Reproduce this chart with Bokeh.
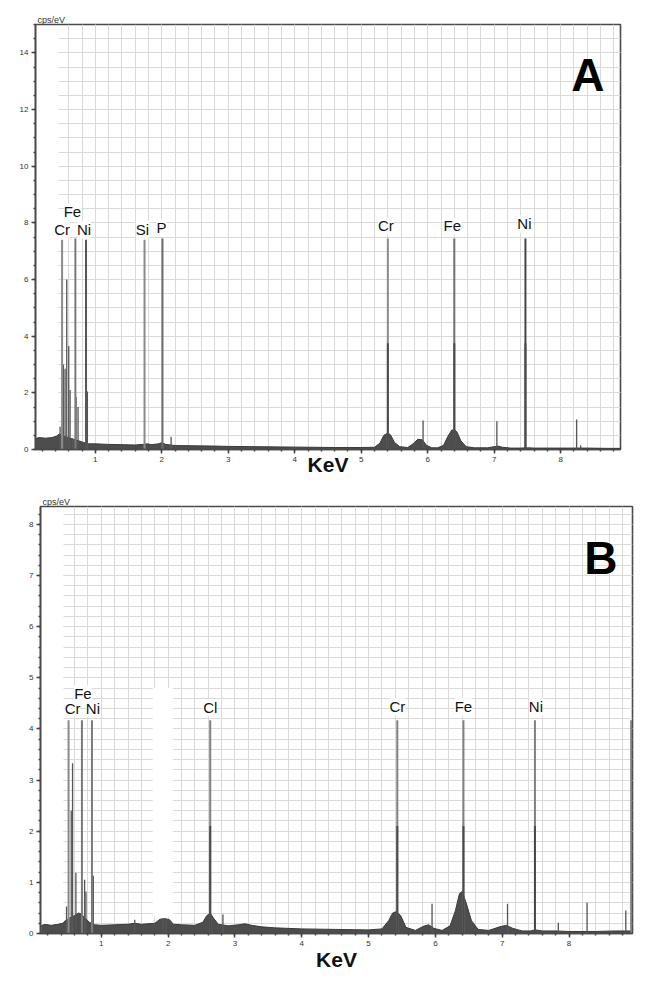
from bokeh.plotting import figure
from bokeh.layouts import column, row
from bokeh.models import (ColumnDataSource, LabelSet, Label, SingleIntervalTicker,
                          BoxAnnotation, Title)
from bokeh.core.properties import value
from bokeh.embed import file_html
from bokeh.resources import INLINE

# ------------------------------------------------------------------ data (A)
spec_A_kev = [
    0.10, 0.15, 0.25, 0.35, 0.42, 0.46, 0.50, 0.56, 0.62, 0.68,
    0.76, 0.82, 0.90, 1.00, 1.20, 1.40, 1.60, 1.72, 1.78, 1.85,
    1.95, 2.00, 2.06, 2.20, 2.50, 2.80, 3.00, 3.40, 3.80, 4.20,
    4.60, 5.00, 5.20, 5.28, 5.34, 5.40, 5.44, 5.50, 5.58, 5.70,
    5.78, 5.85, 5.92, 5.98, 6.06, 6.15, 6.24, 6.30, 6.36, 6.40,
    6.44, 6.50, 6.58, 6.70, 6.90, 7.00, 7.06, 7.12, 7.25, 7.40,
    7.50, 7.60, 7.80, 8.10, 8.40, 8.70, 8.90]
spec_A_cps = [
    0.38, 0.42, 0.40, 0.42, 0.48, 0.55, 0.50, 0.45, 0.40, 0.35,
    0.30, 0.25, 0.20, 0.20, 0.18, 0.17, 0.16, 0.18, 0.20, 0.17,
    0.20, 0.24, 0.18, 0.14, 0.13, 0.12, 0.11, 0.10, 0.09, 0.08,
    0.07, 0.07, 0.08, 0.22, 0.50, 0.58, 0.52, 0.25, 0.10, 0.07,
    0.20, 0.36, 0.34, 0.15, 0.06, 0.06, 0.15, 0.45, 0.68, 0.70,
    0.62, 0.30, 0.10, 0.06, 0.06, 0.10, 0.12, 0.08, 0.05, 0.05,
    0.06, 0.05, 0.05, 0.05, 0.05, 0.04, 0.04]
spike_A_kev = [0.47, 0.52, 0.545, 0.57, 0.60, 0.62, 0.66, 0.71, 0.74, 0.88,
               2.14, 5.93, 7.04, 8.24, 8.30]
spike_A_cps = [0.80, 3.00, 2.85, 6.00, 3.65, 2.10, 0.40, 1.85, 1.50, 2.05,
               0.45, 1.02, 1.00, 1.06, 0.15]
mark_A_el = ["Cr", "Fe", "Ni", "Si", "P", "Cr", "Fe", "Ni"]
mark_A_kev = [0.50, 0.70, 0.86, 1.74, 2.01, 5.40, 6.40, 7.47]
mark_A_top = [7.40, 7.45, 7.40, 7.40, 7.45, 7.45, 7.45, 7.45]
mark_A_inner = [0.0, 0.0, 0.0, 0.0, 0.0, 3.75, 3.75, 3.75]

# ------------------------------------------------------------------ data (B)
spec_B_kev = [
    0.10, 0.15, 0.25, 0.35, 0.42, 0.46, 0.52, 0.60, 0.66, 0.70,
    0.76, 0.82, 0.90, 1.00, 1.20, 1.40, 1.50, 1.60, 1.80, 1.88,
    1.95, 2.02, 2.08, 2.20, 2.40, 2.52, 2.58, 2.63, 2.68, 2.75,
    2.90, 3.05, 3.15, 3.25, 3.40, 3.60, 4.00, 4.50, 5.00, 5.20,
    5.30, 5.36, 5.42, 5.48, 5.56, 5.70, 5.82, 5.90, 5.98, 6.10,
    6.22, 6.30, 6.36, 6.40, 6.46, 6.54, 6.64, 6.80, 6.96, 7.06,
    7.16, 7.30, 7.42, 7.50, 7.60, 7.80, 8.00, 8.40, 8.70, 8.95]
spec_B_cps = [
    0.15, 0.18, 0.16, 0.18, 0.20, 0.25, 0.30, 0.35, 0.40, 0.38,
    0.30, 0.22, 0.17, 0.16, 0.17, 0.18, 0.20, 0.18, 0.20, 0.28,
    0.29, 0.27, 0.18, 0.17, 0.16, 0.22, 0.35, 0.40, 0.30, 0.18,
    0.15, 0.17, 0.19, 0.16, 0.13, 0.11, 0.09, 0.08, 0.07, 0.09,
    0.25, 0.40, 0.43, 0.35, 0.12, 0.06, 0.14, 0.17, 0.10, 0.06,
    0.15, 0.45, 0.78, 0.82, 0.60, 0.25, 0.08, 0.06, 0.13, 0.16,
    0.10, 0.05, 0.05, 0.07, 0.05, 0.05, 0.04, 0.04, 0.05, 0.05]
spike_B_kev = [0.48, 0.55, 0.57, 0.62, 0.75, 0.77, 0.88, 1.50, 1.92, 1.97,
               2.82, 5.95, 7.08, 7.84, 8.27, 8.85]
spike_B_cps = [0.53, 2.40, 3.33, 1.19, 1.05, 0.82, 1.13, 0.27, 0.30, 0.30,
               0.37, 0.58, 0.58, 0.21, 0.60, 0.45]
mark_B_el = ["Cr", "Fe", "Ni", "Cl", "Cr", "Fe", "Ni", ""]
mark_B_kev = [0.51, 0.71, 0.86, 2.63, 5.43, 6.42, 7.49, 8.93]
mark_B_top = [4.17, 4.17, 4.17, 4.17, 4.17, 4.17, 4.17, 4.17]
mark_B_inner = [0.0, 0.0, 0.0, 2.1, 2.1, 2.1, 2.1, 0.0]

# ------------------------------------------------------------------ styles
label_dx_A = [0, -3, -2, -2, -1, -2, -2, -1]
label_dy_A = [2, 18, 2, 2, 2, 4, 4, 6]
mark_col_A = ["#8a8a8a", "#7a7a7a", "#555555", "#8a8a8a", "#6e6e6e", "#8a8a8a", "#707070", "#444444"]
label_dx_B = [4, 1, 1, 0, 0, 0, 1, 0]
label_dy_B = [3, 18, 3, 4, 5, 5, 5, 5]
mark_col_B = ["#8a8a8a", "#7a7a7a", "#7a7a7a", "#808080", "#808080", "#808080", "#808080", "#808080"]

FONT = "Liberation Sans"


def panel(spec_kev, spec_cps, spike_kev, spike_cps, el, mk, mtop, minner,
          dx, dy, mcol, xr, yr, ymaj, ymin_n, letter, width, height,
          mb_left, mb_right, mb_top, mb_bottom, kev_standoff, let_dx, let_dy):
    p = figure(width=width, height=height, x_range=xr, y_range=yr,
               output_backend="svg", toolbar_location=None,
               min_border_left=mb_left, min_border_right=mb_right,
               min_border_top=mb_top, min_border_bottom=mb_bottom)
    p.title = Title(text="cps/eV", align="left", text_font=FONT,
                    text_font_size="9px", text_font_style="normal",
                    text_color="#333333", standoff=0, offset=2)
    p.background_fill_color = "white"
    p.border_fill_color = "white"
    p.outline_line_color = "#4a4a4a"
    p.outline_line_width = 1.6

    p.xaxis.ticker = SingleIntervalTicker(interval=1, num_minor_ticks=5)
    p.yaxis.ticker = SingleIntervalTicker(interval=ymaj, num_minor_ticks=ymin_n)
    for ax in (p.xaxis[0], p.yaxis[0]):
        ax.axis_line_color = "#4a4a4a"
        ax.axis_line_width = 1.6
        ax.major_tick_line_color = "#444444"
        ax.major_tick_line_width = 1.5
        ax.minor_tick_line_color = "#444444"
        ax.minor_tick_line_width = 1.5
        ax.major_tick_in = 0
        ax.major_tick_out = 4
        ax.minor_tick_in = 0
        ax.minor_tick_out = 2
        ax.major_label_text_font = FONT
        ax.major_label_text_font_size = "8px"
        ax.major_label_text_color = "#333333"
        ax.major_label_standoff = 3
    xa = p.xaxis[0]
    xa.axis_label = "KeV"
    xa.axis_label_text_font = FONT
    xa.axis_label_text_font_size = "21px"
    xa.axis_label_text_font_style = "bold"
    xa.axis_label_text_color = "#111111"
    xa.axis_label_standoff = kev_standoff

    for g in (p.xgrid[0], p.ygrid[0]):
        g.grid_line_color = "#dadada"
        g.grid_line_width = 1
        g.minor_grid_line_color = "#dadada"
        g.minor_grid_line_width = 1
    p.xgrid.bounds = (0.5, xr[1] + 0.1)
    try:
        p.ygrid[0].cross_bounds = (0.44, xr[1])
    except Exception:
        pass

    # spectrum continuum
    p.varea(x=spec_kev, y1=[0] * len(spec_kev), y2=spec_cps, fill_color="#4d4d4d")
    p.line(x=spec_kev, y=spec_cps, line_color="#3a3a3a", line_width=1)
    # narrow peaks
    p.vbar(x=spike_kev, top=spike_cps, bottom=0, width=0.02,
           fill_color="#585858", line_color=None)

    # element marker lines
    msrc = ColumnDataSource(dict(x=mk, top=mtop, inner=minner, el=el,
                                 dx=dx, dy=dy, col=mcol, zero=[0] * len(mk)))
    p.segment(x0="x", y0="zero", x1="x", y1="top", source=msrc,
              line_color="col", line_width=2)
    p.segment(x0="x", y0="zero", x1="x", y1="inner", source=msrc,
              line_color="#4a4a4a", line_width=2)
    labels = LabelSet(x="x", y="top", text="el", source=msrc,
                      x_offset="dx", y_offset="dy",
                      text_align="center", text_baseline="bottom",
                      text_font=value(FONT), text_font_size="15px",
                      text_color="#111111",
                      background_fill_color="white")
    p.add_layout(labels)

    p.add_layout(Label(x=xr[1], y=yr[1], x_offset=let_dx, y_offset=let_dy, text=letter,
                       text_font=FONT, text_font_size="46px",
                       text_font_style="bold", text_color="#000000",
                       text_align="right", text_baseline="top"))
    return p


pA = panel(spec_A_kev, spec_A_cps, spike_A_kev, spike_A_cps,
           mark_A_el, mark_A_kev, mark_A_top, mark_A_inner,
           label_dx_A, label_dy_A, mark_col_A,
           (0.1, 8.9), (0, 15.0), 2, 4, "A", 641, 480,
           35, 21, 24, 31, -12, -16, -24)

pB = panel(spec_B_kev, spec_B_cps, spike_B_kev, spike_B_cps,
           mark_B_el, mark_B_kev, mark_B_top, mark_B_inner,
           label_dx_B, label_dy_B, mark_col_B,
           (0.09, 8.95), (0, 8.35), 1, 5, "B", 641, 500,
           40, 9, 26, 47, -1, -15, -25)

# erased region in panel B
pB.add_layout(BoxAnnotation(left=1.77, right=2.07, bottom=0.33, top=4.8,
                            fill_color="white", fill_alpha=1.0,
                            line_color=None, level="underlay"))

layout = column(row(pA), row(pB))
open("out.html", "w").write(file_html(layout, INLINE))
